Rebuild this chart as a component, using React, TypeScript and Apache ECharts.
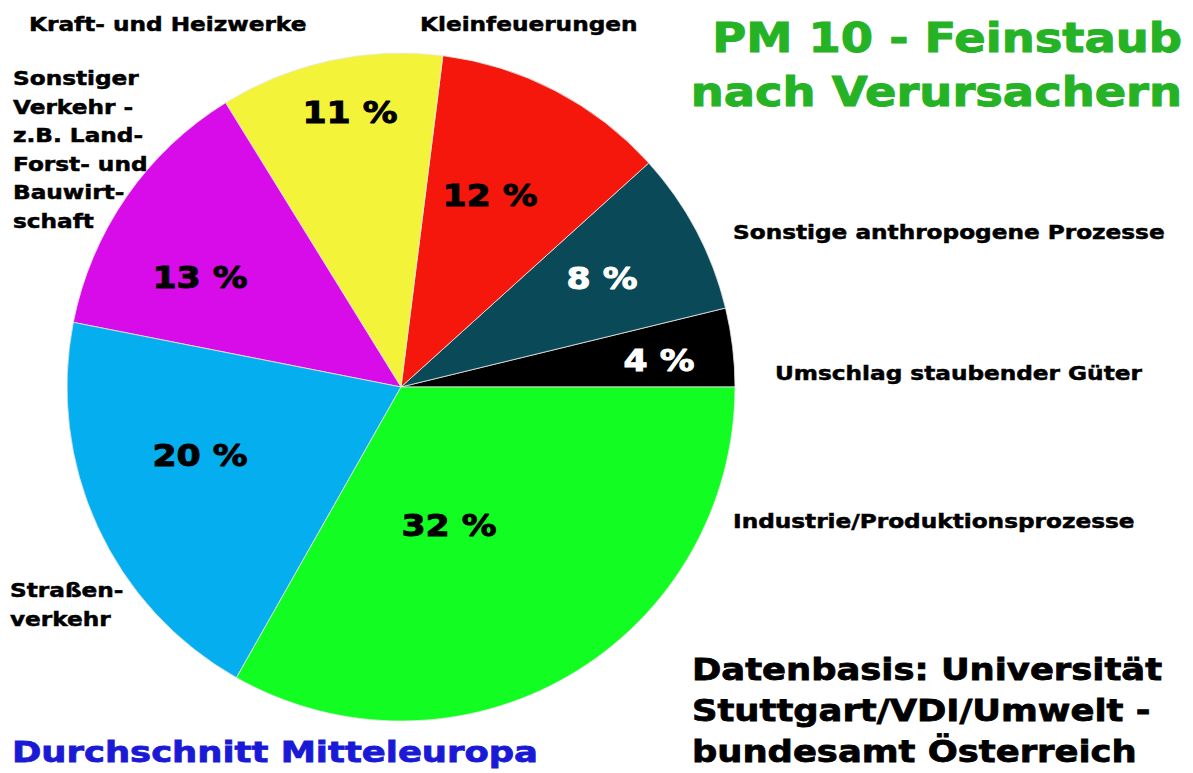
import React, { useEffect, useRef } from "react";
import * as echarts from "echarts";

const categories = [
  "Umschlag staubender Güter",
  "Sonstige anthropogene Prozesse",
  "Kleinfeuerungen",
  "Kraft- und Heizwerke",
  "Sonstiger Verkehr - z.B. Land- Forst- und Bauwirtschaft",
  "Straßenverkehr",
  "Industrie/Produktionsprozesse",
];
// percentages as printed in the slices
const printedPercents = [4, 8, 12, 11, 13, 20, 32];
const sliceShares = [3.8, 7.9, 11.3, 10.8, 13.1, 19.9, 33.2];
const colors = ["#000000", "#0a4a58", "#f5170c", "#f3f43a", "#d80be9", "#05aeee", "#12fd22"];
const percentTextColors = ["#ffffff", "#ffffff", "#000000", "#000000", "#000000", "#000000", "#000000"];

// layout (positions of labels), kept separate from data
const percentLabelPos: [number, number][] = [
  [659, 360],
  [602, 278],
  [490, 195],
  [350, 112],
  [200, 277],
  [200, 455],
  [449, 525],
];
const nameLabelText = [
  "Umschlag staubender Güter",
  "Sonstige anthropogene Prozesse",
  "Kleinfeuerungen",
  "Kraft- und Heizwerke",
  "Sonstiger\nVerkehr -\nz.B. Land-\nForst- und\nBauwirt-\nschaft",
  "Straßen-\nverkehr",
  "Industrie/Produktionsprozesse",
];
const nameLabelPos: [number, number][] = [
  [775, 373],
  [733, 232],
  [420, 24],
  [29, 24],
  [13, 64],
  [10, 576],
  [733, 521],
];

const titleLines = ["PM 10 - Feinstaub", "nach Verursachern"];
const sourceLines = ["Datenbasis: Universität", "Stuttgart/VDI/Umwelt -", "bundesamt Österreich"];
const footnote = "Durchschnitt Mitteleuropa";

const FONT = "'Arial Black', 'DejaVu Sans', sans-serif";

export default function App() {
  const ref = useRef<HTMLDivElement>(null);
  useEffect(() => {
    if (!ref.current) return;
    const chart = echarts.init(ref.current, undefined, { renderer: "svg" });
    const graphic: any[] = [];
    printedPercents.forEach((v, i) => {
      graphic.push({
        type: "text",
        z: 100,
        x: percentLabelPos[i][0],
        y: percentLabelPos[i][1],
        scaleX: 1.12,
        style: {
          text: `${v} %`,
          fill: percentTextColors[i],
          stroke: percentTextColors[i],
          lineWidth: 1,
          font: `bold 31px ${FONT}`,
          textAlign: "center",
          textVerticalAlign: "middle",
        },
      });
    });
    categories.forEach((c, i) => {
      const multi = nameLabelText[i].includes("\n");
      graphic.push({
        type: "text",
        z: 100,
        x: nameLabelPos[i][0],
        y: nameLabelPos[i][1],
        scaleX: 1.19,
        style: {
          text: nameLabelText[i],
          fill: "#000000",
          stroke: "#000000",
          lineWidth: 0.5,
          font: `bold 19.5px ${FONT}`,
          lineHeight: 28.5,
          textAlign: "left",
          textVerticalAlign: multi ? "top" : "middle",
        },
      });
    });
    graphic.push({
      type: "text",
      z: 100,
      x: 1182,
      y: 11,
      scaleX: 1.16,
      style: {
        text: titleLines.join("\n"),
        fill: "#25b325",
        stroke: "#25b325",
        lineWidth: 1,
        font: `bold 40px ${FONT}`,
        lineHeight: 54,
        textAlign: "right",
        textVerticalAlign: "top",
      },
    });
    graphic.push({
      type: "text",
      z: 100,
      x: 692,
      y: 649,
      scaleX: 1.14,
      style: {
        text: sourceLines.join("\n"),
        fill: "#000000",
        stroke: "#000000",
        lineWidth: 0.8,
        font: `bold 31px ${FONT}`,
        lineHeight: 41,
        textAlign: "left",
      },
    });
    graphic.push({
      type: "text",
      z: 100,
      x: 12,
      y: 752,
      scaleX: 1.22,
      style: {
        text: footnote,
        fill: "#1a1ad6",
        stroke: "#1a1ad6",
        lineWidth: 0.8,
        font: `bold 29px ${FONT}`,
        textAlign: "left",
        textVerticalAlign: "middle",
      },
    });

    chart.setOption({
      animation: false,
      backgroundColor: "#ffffff",
      series: [
        {
          type: "pie",
          center: [401, 387],
          radius: 334,
          startAngle: 0,
          clockwise: false,
          minAngle: 0,
          avoidLabelOverlap: false,
          label: { show: false },
          labelLine: { show: false },
          emphasis: { disabled: true },
          itemStyle: { borderColor: "#e8e8e8", borderWidth: 0.8 },
          data: categories.map((c, i) => ({
            name: c,
            value: sliceShares[i],
            itemStyle: { color: colors[i] },
          })),
        },
      ],
      graphic,
    });
    return () => chart.dispose();
  }, []);
  return (
    <div
      ref={ref}
      style={{ position: "fixed", left: 0, top: 0, width: 1193, height: 773 }}
    />
  );
}
